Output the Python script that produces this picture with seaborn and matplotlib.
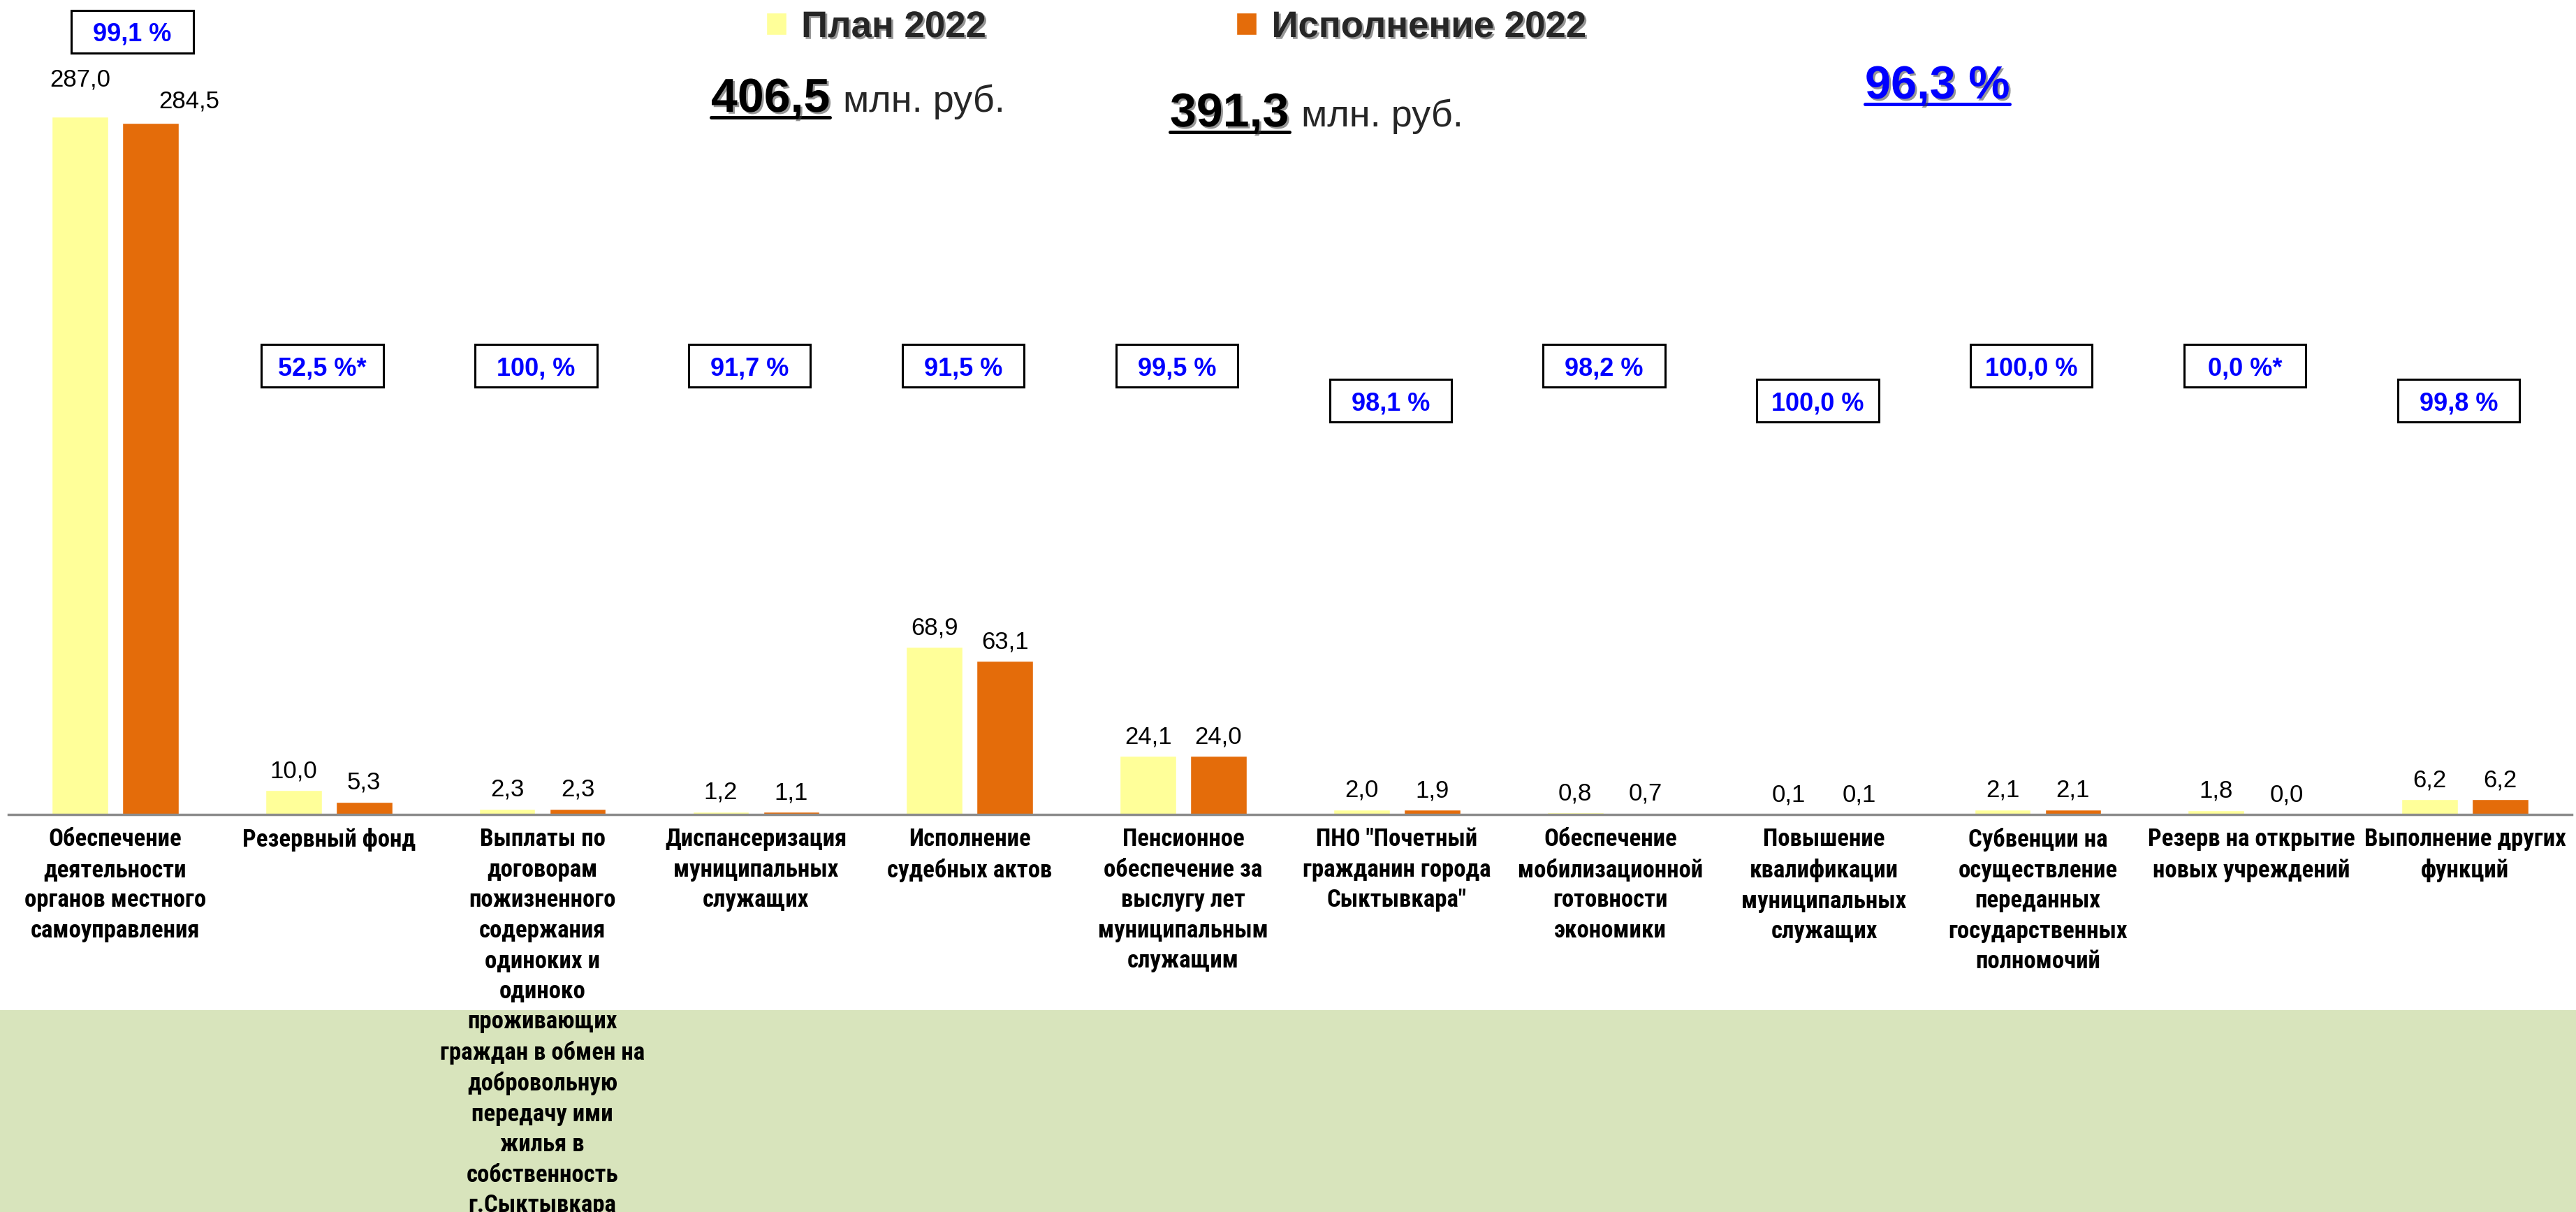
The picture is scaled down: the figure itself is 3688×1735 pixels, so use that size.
import matplotlib
matplotlib.use('Agg')
import numpy as np
import pandas as pd
import seaborn as sns
import matplotlib.pyplot as plt
from matplotlib import font_manager as fm, patheffects as pe
from matplotlib.patches import Rectangle
from matplotlib.lines import Line2D
import matplotlib.transforms as mtransforms

# ---------------- data ----------------
categories = [
    "Обеспечение\nдеятельности\nорганов местного\nсамоуправления",
    "Резервный фонд",
    "Выплаты по\nдоговорам\nпожизненного\nсодержания\nодиноких и\nодиноко\nпроживающих\nграждан в обмен на\nдобровольную\nпередачу ими\nжилья в\nсобственность\nг.Сыктывкара",
    "Диспансеризация\nмуниципальных\nслужащих",
    "Исполнение\nсудебных актов",
    "Пенсионное\nобеспечение за\nвыслугу лет\nмуниципальным\nслужащим",
    "ПНО \"Почетный\nгражданин города\nСыктывкара\"",
    "Обеспечение\nмобилизационной\nготовности\nэкономики",
    "Повышение\nквалификации\nмуниципальных\nслужащих",
    "Субвенции на\nосуществление\nпереданных\nгосударственных\nполномочий",
    "Резерв на открытие\nновых учреждений",
    "Выполнение других\nфункций",
]
plan = [287.0, 10.0, 2.3, 1.2, 68.9, 24.1, 2.0, 0.8, 0.1, 2.1, 1.8, 6.2]
execution = [284.5, 5.3, 2.3, 1.1, 63.1, 24.0, 1.9, 0.7, 0.1, 2.1, 0.0, 6.2]
pct_labels = ["99,1 %", "52,5 %*", "100, %", "91,7 %", "91,5 %", "99,5 %",
              "98,1 %", "98,2 %", "100,0 %", "100,0 %", "0,0 %*", "99,8 %"]
series_names = ["План 2022", "Исполнение 2022"]
total_plan = "406,5"
total_exec = "391,3"
total_pct = "96,3 %"
unit_text = "млн. руб."

# ---------------- style ----------------
sns.set_theme(style="white")
avail = {f.name for f in fm.fontManager.ttflist}
main_font = "Liberation Sans" if "Liberation Sans" in avail else "DejaVu Sans"
narrow_font, cat_size, cat_ls = main_font, 21.5, 1.6
for cand in ["Liberation Sans Narrow", "Roboto Condensed", "Open Sans Condensed",
             "Noto Sans Condensed"]:
    if cand in avail:
        narrow_font, cat_size, cat_ls = cand, 25, 1.4
        break
plt.rcParams["font.family"] = [main_font, "DejaVu Sans"]

colors = ["#FFFF99", "#E46C0A"]
W, H = 3688, 1735

df = pd.DataFrame({
    "cat": categories * 2,
    "value": plan + execution,
    "series": [series_names[0]] * len(plan) + [series_names[1]] * len(execution),
})

fig = plt.figure(figsize=(W / 100, H / 100), dpi=100)
fig.patch.set_facecolor("white")
# green band at the bottom
fig.patches.append(Rectangle((0, 0), 1, (H - 1446) / H, transform=fig.transFigure,
                             facecolor="#D8E4BC", edgecolor="none", zorder=-5))

ax = fig.add_axes([12 / W, (H - 1166) / H, 3670 / W, 1166 / H])
ax.set_facecolor("none")

sns.barplot(data=df, x="cat", y="value", hue="series", order=categories,
            hue_order=series_names, palette=colors, saturation=1,
            width=0.66, gap=0.2, ax=ax, legend=True)

ax.set_xlim(-0.5, len(categories) - 0.5)
ax.set_ylim(0, 335)
ax.set_xlabel("")
ax.set_ylabel("")
ax.set_yticks([])
for s in ["left", "top", "right"]:
    ax.spines[s].set_visible(False)
ax.spines["bottom"].set_color("#8C8C8C")
ax.spines["bottom"].set_linewidth(2.5)
ax.set_xticks(range(len(categories)))
ax.set_xticklabels(categories, fontsize=cat_size, fontweight="bold",
                   family=[narrow_font, "DejaVu Sans"], linespacing=cat_ls, color="black")
ax.tick_params(axis="x", length=0, pad=14)

# value labels
fmt = lambda v: f"{v:.1f}".replace(".", ",")
label_sets = []
for cont, vals in zip(ax.containers, [plan, execution]):
    txts = ax.bar_label(cont, labels=[fmt(v) for v in vals], padding=8,
                        fontsize=25, color="black")
    label_sets.append(txts)
label_sets[0][0].xyann = (0, 26)
label_sets[1][0].xyann = (40, 10)

# percentage boxes
trans = mtransforms.blended_transform_factory(ax.transData, ax.transAxes)
box_levels = [0.961, 0.551, 0.551, 0.551, 0.551, 0.551, 0.508, 0.551, 0.508, 0.551, 0.551, 0.508]
box_dx = [0.08] + [-0.03] * 11
for i, lab in enumerate(pct_labels):
    cx, cy = i + box_dx[i], box_levels[i]
    ax.add_patch(Rectangle((cx - 0.285, cy - 0.026), 0.57, 0.052, transform=trans,
                           facecolor="white", edgecolor="black", lw=2.2, zorder=3,
                           clip_on=False))
    ax.text(cx, cy, lab, transform=trans, ha="center", va="center_baseline",
            color="#0000FF", fontweight="bold", fontsize=26, zorder=4)

# legend
shadow = [pe.SimplePatchShadow(offset=(2, -2), shadow_rgbFace="0.25", alpha=0.55), pe.Normal()]
sns.move_legend(ax, "upper left", bbox_to_anchor=(1097 / W, 1 - 14 / H),
                bbox_transform=fig.transFigure, ncol=2, frameon=False, title=None,
                prop={"weight": "bold", "size": 38}, handlelength=0.55,
                handleheight=0.55, handletextpad=0.4, columnspacing=6.8,
                borderpad=0, borderaxespad=0)
for t in ax.get_legend().get_texts():
    t.set_path_effects(shadow)

# totals
def total(x, ybase, big, color="black", big_size=49):
    return fig.text(x / W, 1 - ybase / H, big, fontsize=big_size, fontweight="bold",
                    color=color, ha="left", va="baseline", path_effects=shadow)

tp = total(1018, 160, total_plan)
fig.text(1207 / W, 1 - 160 / H, unit_text, fontsize=39, ha="left", va="baseline")
te = total(1675, 181, total_exec)
fig.text(1863 / W, 1 - 181 / H, unit_text, fontsize=39, ha="left", va="baseline")
tpc = total(2670, 141, total_pct, color="#0000FF", big_size=48)

fig.canvas.draw()
r = fig.canvas.get_renderer()
for t, ybase, col in [(tp, 160, "black"), (te, 181, "black"), (tpc, 141, "#0000FF")]:
    bb = t.get_window_extent(r)
    yy = 1 - (ybase + 8) / H
    fig.add_artist(Line2D([bb.x0 / W, bb.x1 / W], [yy, yy], transform=fig.transFigure,
                          color=col, lw=3.6, path_effects=shadow))

fig.savefig("out.png", dpi=100)
